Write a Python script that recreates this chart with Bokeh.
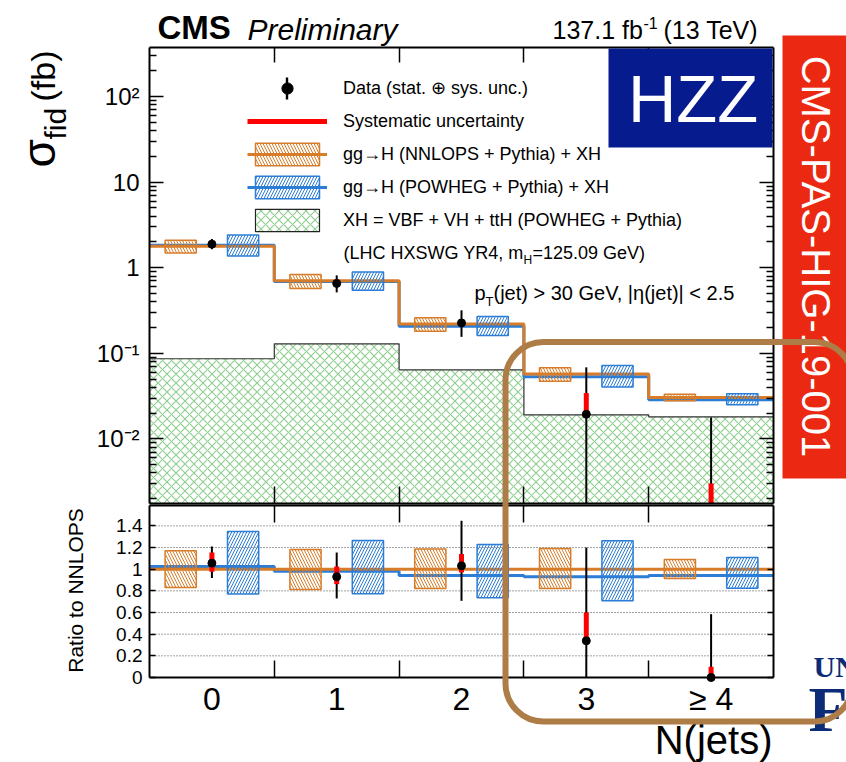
import numpy as np
from bokeh.plotting import figure
from bokeh.models import (Range1d, LogAxis, LinearAxis, FixedTicker, Legend, LegendItem,
                          Label, BoxAnnotation, LinearScale)
from bokeh.embed import file_html
from bokeh.resources import INLINE

# ---------------- data ----------------
categories = ["0", "1", "2", "3", "≥ 4"]
bin_centers = [0, 1, 2, 3, 4]
bin_edges = [-0.5, 0.5, 1.5, 2.5, 3.5, 4.5]

# absolute fiducial cross sections (fb)
nnlops_xsec = [1.785, 0.705, 0.2196, 0.0571, 0.0304]
xh_xsec = [0.0863, 0.129, 0.064, 0.0191, 0.0181]

# values relative to NNLOPS (ratio panel)
nnlops_ratio = [1.0, 1.0, 1.0, 1.0, 1.0]
nnlops_unc_lo = [0.830, 0.813, 0.822, 0.822, 0.914]
nnlops_unc_hi = [1.170, 1.182, 1.186, 1.190, 1.090]
powheg_ratio = [1.025, 0.982, 0.942, 0.930, 0.942]
powheg_unc_lo = [0.770, 0.773, 0.736, 0.708, 0.825]
powheg_unc_hi = [1.348, 1.265, 1.228, 1.262, 1.108]

data_ratio = [1.056, 0.930, 1.031, 0.339, 0.0]
data_tot_lo = [0.918, 0.730, 0.708, 0.0, 0.0]
data_tot_hi = [1.210, 1.154, 1.447, 1.200, 0.585]
data_sys_lo = [0.976, 0.862, 0.970, 0.339, 0.0]
data_sys_hi = [1.154, 1.025, 1.140, 0.600, 0.099]

y_ticks_top = [0.01, 0.1, 1.0, 10.0, 100.0]
y_tick_labels_top = ["10⁻²", "10⁻¹", "1", "10", "10²"]
y_ticks_ratio = [0, 0.2, 0.4, 0.6, 0.8, 1.0, 1.2, 1.4]
y_tick_labels_ratio = ["0", "0.2", "0.4", "0.6", "0.8", "1", "1.2", "1.4"]

legend_labels = ["Data (stat. ⊕ sys. unc.)", "Systematic uncertainty",
                 "gg→H (NNLOPS + Pythia) + XH", "gg→H (POWHEG + Pythia) + XH",
                 "XH = VBF + VH + ttH (POWHEG + Pythia)"]

# ---------------- styling / geometry ----------------
FONT = "Liberation Sans"
ORANGE = "#D77D2A"
BLUE = "#2B7DD6"
GREEN = "#8FCD8F"
RED = "#FF0000"
BROWN = "#AD7C47"
NAVY = "#061B8E"
BANNER = "#EB2812"
UFBLUE = "#0D2C78"

W, H = 846, 762
FL, FR = 149.0, 773.0          # panel left/right (page px)
TT, TB = 47.0, 503.0           # top panel
BT, BB = 505.0, 677.0          # ratio panel
LOG_MIN, LOG_MAX = -2.756, 2.574
PX_PER_DEC = (TB - TT) / (LOG_MAX - LOG_MIN)
PX_PER_RATIO = 108.3


def X(px):
    return -0.5 + (px - FL) / (FR - FL) * 5.0


def YT(py):
    return 10 ** (LOG_MAX - (py - TT) / PX_PER_DEC)


def YB(py):
    return (BB - py) / PX_PER_RATIO


YMIN_TOP, YMAX_TOP = 10 ** LOG_MIN, 10 ** LOG_MAX
R_TOP = YB(BT)


def step_y(v):
    v = list(v)
    return v + [v[-1]]


def slabel(p, px, py, text, size, color="black", font=FONT, style="normal",
           align="left", angle=0.0):
    """Text in screen units; py is the visual centre of the capitals."""
    p.add_layout(Label(x=px, y=H - py, x_units="screen", y_units="screen",
                       text=text, text_font=font, text_font_size=f"{size}px",
                       text_font_style=style, text_color=color, text_align=align,
                       text_baseline="middle", angle=angle))


def sbox(p, l, r, t, b, **kw):
    p.add_layout(BoxAnnotation(left=l, right=r, top=H - t, bottom=H - b,
                               left_units="screen", right_units="screen",
                               top_units="screen", bottom_units="screen", **kw))


def style_axis(ax, tick_in, minor_in=0, labels=True, size="24px", standoff=0,
               major_color="black"):
    ax.axis_line_color = "black"
    ax.axis_line_width = 2
    ax.major_tick_in = tick_in
    ax.major_tick_out = 0
    ax.minor_tick_in = minor_in
    ax.minor_tick_out = 0
    ax.major_tick_line_color = major_color
    ax.major_tick_line_width = 1.5
    ax.minor_tick_line_width = 1.5
    ax.minor_tick_line_color = "black" if minor_in else None
    ax.major_label_standoff = standoff
    if labels:
        ax.major_label_text_font = FONT
        ax.major_label_text_font_size = size
        ax.major_label_text_color = "black"
    else:
        ax.major_label_text_font_size = "1px"
        ax.major_label_text_alpha = 0.0


c = np.array(bin_centers, dtype=float)
edges = np.array(bin_edges, dtype=float)
nn = np.array(nnlops_xsec)
xh = np.array(xh_xsec)
nn_lo, nn_hi = np.array(nnlops_unc_lo), np.array(nnlops_unc_hi)
pw, pw_lo, pw_hi = np.array(powheg_ratio), np.array(powheg_unc_lo), np.array(powheg_unc_hi)
dr = np.array(data_ratio)
tot_lo, tot_hi = np.array(data_tot_lo), np.array(data_tot_hi)
sys_lo, sys_hi = np.array(data_sys_lo), np.array(data_sys_hi)

# one canvas; the frame covers the whole page, panels are placed by the ranges
p = figure(width=W, height=H, x_range=Range1d(X(0), X(W)),
           y_range=Range1d(YT(H), YT(0)), y_axis_type="log",
           x_axis_location=None, y_axis_location=None,
           output_backend="svg", toolbar_location=None,
           min_border_left=0, min_border_right=0, min_border_top=0, min_border_bottom=0)
p.extra_y_ranges = {"ratio": Range1d(YB(H), YB(0))}
p.extra_y_scales = {"ratio": LinearScale()}
p.grid.visible = False
p.outline_line_color = None

# ================= top panel =================
p.quad(left=edges[:-1], right=edges[1:], bottom=YMIN_TOP, top=xh,
       fill_color=None, line_color=None, hatch_pattern="x", hatch_color=GREEN,
       hatch_scale=9, hatch_weight=1.1)
p.step(x=edges, y=step_y(xh), mode="after", line_color="#333333", line_width=1.2)
r_pw_line = p.step(x=edges, y=step_y(nn * pw), mode="after", line_color=BLUE, line_width=3)
r_nn_line = p.step(x=edges, y=step_y(nn), mode="after", line_color=ORANGE, line_width=3)
r_nn_box = p.quad(left=c - 0.375, right=c - 0.125, bottom=nn * nn_lo, top=nn * nn_hi,
                  fill_color=None, line_color=ORANGE, line_width=1.5,
                  hatch_pattern="\\", hatch_color=ORANGE, hatch_scale=6, hatch_weight=1)
r_pw_box = p.quad(left=c + 0.125, right=c + 0.375, bottom=nn * pw_lo, top=nn * pw_hi,
                  fill_color=None, line_color=BLUE, line_width=1.5,
                  hatch_pattern="/", hatch_color=BLUE, hatch_scale=6, hatch_weight=1)
p.segment(x0=c, y0=np.maximum(nn * tot_lo, YMIN_TOP), x1=c, y1=nn * tot_hi,
          line_color="black", line_width=2)
r_sys = p.segment(x0=c, y0=np.maximum(nn * sys_lo, YMIN_TOP), x1=c, y1=nn * sys_hi,
                  line_color=RED, line_width=5)
data_top = np.where(dr > 0, nn * dr, np.nan)
r_data = p.scatter(x=c, y=data_top, size=8, color="black")
# legend proxy for the XH entry (outlined hatched box), outside the visible range
r_xh_leg = p.quad(left=[-10], right=[-9], bottom=[1], top=[2], fill_color=None,
                  line_color="#222222", line_width=1.2, hatch_pattern="x",
                  hatch_color=GREEN, hatch_scale=9, hatch_weight=1.1)

minor_top = [k * 10.0 ** n for n in range(-3, 3) for k in range(2, 10)
             if YMIN_TOP <= k * 10.0 ** n <= YMAX_TOP]
tick_top = FixedTicker(ticks=y_ticks_top, minor_ticks=minor_top)
edge_ticker = FixedTicker(ticks=bin_edges[1:-1], minor_ticks=[])

yl = LogAxis(ticker=tick_top, fixed_location=-0.5, bounds=(YMIN_TOP, YMAX_TOP),
             major_label_overrides=dict(zip(y_ticks_top, y_tick_labels_top)))
style_axis(yl, 14, 7, labels=True, size="24px", standoff=10)
p.add_layout(yl, "left")
yr = LogAxis(ticker=tick_top, fixed_location=4.5, bounds=(YMIN_TOP, YMAX_TOP))
style_axis(yr, 14, 7, labels=False)
p.add_layout(yr, "right")
xt = LinearAxis(ticker=edge_ticker, fixed_location=YMAX_TOP, bounds=(-0.5, 4.5))
style_axis(xt, 15, labels=False)
p.add_layout(xt, "above")
xtb = LinearAxis(ticker=edge_ticker, fixed_location=YMIN_TOP, bounds=(-0.5, 4.5))
style_axis(xtb, 17, labels=False)
p.add_layout(xtb, "below")

# ================= ratio panel =================
tick_ratio = FixedTicker(ticks=y_ticks_ratio, minor_ticks=[])
grid_levels = [t for t in y_ticks_ratio if t > 0]
p.segment(x0=-0.5, x1=4.5, y0=grid_levels, y1=grid_levels, y_range_name="ratio",
          line_color="#444444", line_width=1, line_dash="1 2")
p.step(x=edges, y=step_y(pw), mode="after", line_color=BLUE, line_width=3,
       y_range_name="ratio")
p.step(x=edges, y=step_y(nnlops_ratio), mode="after", line_color=ORANGE, line_width=3,
       y_range_name="ratio")
p.quad(left=c - 0.375, right=c - 0.125, bottom=nn_lo, top=nn_hi, y_range_name="ratio",
       fill_color=None, line_color=ORANGE, line_width=1.5,
       hatch_pattern="\\", hatch_color=ORANGE, hatch_scale=6, hatch_weight=1)
p.quad(left=c + 0.125, right=c + 0.375, bottom=pw_lo, top=pw_hi, y_range_name="ratio",
       fill_color=None, line_color=BLUE, line_width=1.5,
       hatch_pattern="/", hatch_color=BLUE, hatch_scale=6, hatch_weight=1)
p.segment(x0=c, y0=tot_lo, x1=c, y1=tot_hi, line_color="black", line_width=2,
          y_range_name="ratio")
p.segment(x0=c, y0=sys_lo, x1=c, y1=sys_hi, line_color=RED, line_width=5,
          y_range_name="ratio")
p.scatter(x=c, y=dr, size=8, color="black", y_range_name="ratio")

yl2 = LinearAxis(y_range_name="ratio", ticker=tick_ratio, fixed_location=-0.5,
                 bounds=(0, R_TOP),
                 major_label_overrides=dict(zip(y_ticks_ratio, y_tick_labels_ratio)))
style_axis(yl2, 6, labels=True, size="19px", standoff=7)
p.add_layout(yl2, "left")
yr2 = LinearAxis(y_range_name="ratio", ticker=tick_ratio, fixed_location=4.5,
                 bounds=(0, R_TOP))
style_axis(yr2, 6, labels=False)
p.add_layout(yr2, "right")
xb2 = LinearAxis(y_range_name="ratio", fixed_location=0, bounds=(-0.5, 4.5),
                 ticker=FixedTicker(ticks=bin_centers, minor_ticks=bin_edges[1:-1]),
                 major_label_overrides=dict(zip(bin_centers, categories)))
style_axis(xb2, 0, 17, labels=True, size="32px", standoff=3, major_color=None)
p.add_layout(xb2, "below")
xa2 = LinearAxis(y_range_name="ratio", ticker=edge_ticker, fixed_location=R_TOP,
                 bounds=(-0.5, 4.5))
style_axis(xa2, 17, labels=False)
p.add_layout(xa2, "above")

# ================= legend & texts =================
legend = Legend(items=[
    LegendItem(label=legend_labels[0], renderers=[r_data]),
    LegendItem(label=legend_labels[1], renderers=[r_sys]),
    LegendItem(label=legend_labels[2], renderers=[r_nn_box, r_nn_line]),
    LegendItem(label=legend_labels[3], renderers=[r_pw_box, r_pw_line]),
    LegendItem(label=legend_labels[4], renderers=[r_xh_leg]),
], location=(247, H - 234.3), padding=0, spacing=5, glyph_width=80, glyph_height=28,
    label_standoff=16, label_text_font=FONT, label_text_font_size="18px",
    label_text_color="black", background_fill_alpha=0, border_line_color=None)
p.add_layout(legend)
sbox(p, 285.3, 287.7, 77, 99, fill_color="black", fill_alpha=1, line_color=None)

slabel(p, 157, 27, "CMS", 33, style="bold")
slabel(p, 247, 28.5, "Preliminary", 30, style="italic")
slabel(p, 552, 29, "137.1 fb", 25)
slabel(p, 643, 22.5, "-1", 16)
slabel(p, 663, 29, "(13 TeV)", 25)
slabel(p, 38, 167, "σ", 46, angle=np.pi / 2)
slabel(p, 54.5, 139, "fid", 30, angle=np.pi / 2)
slabel(p, 42, 101, "(fb)", 34, angle=np.pi / 2)
slabel(p, 343, 252, "(LHC HXSWG YR4, m", 18)
slabel(p, 523, 259, "H", 12)
slabel(p, 532, 252, "=125.09 GeV)", 18)
slabel(p, 474, 292, "p", 20)
slabel(p, 485, 301, "T", 13)
slabel(p, 493, 292, "(jet) > 30 GeV, |η(jet)| < 2.5", 20)
slabel(p, 74.5, 590, "Ratio to NNLOPS", 21, align="center", angle=np.pi / 2)
slabel(p, 772, 739, "N(jets)", 40, align="right")

# overlays
sbox(p, 608, 772, 48, 147, fill_color=NAVY, fill_alpha=1, line_color=None)
slabel(p, 692.5, 97.5, "HZZ", 67, color="white", align="center")
sbox(p, 782, 880, 35, 478, fill_color=BANNER, fill_alpha=1, line_color=None)
slabel(p, 815, 256, "CMS-PAS-HIG-19-001", 40, color="white", align="center",
       angle=-np.pi / 2)
slabel(p, 813, 666, "UNIVERSITY", 30, color=UFBLUE, font="Liberation Serif", style="bold")
slabel(p, 808, 709, "F", 64, color=UFBLUE, font="Liberation Serif", style="bold")
sbox(p, 505, 852, 341.5, 721, fill_alpha=0, line_color=BROWN, line_alpha=1,
     line_width=6, border_radius=38)

with open("out.html", "w", encoding="utf-8") as f:
    f.write(file_html(p, INLINE))
